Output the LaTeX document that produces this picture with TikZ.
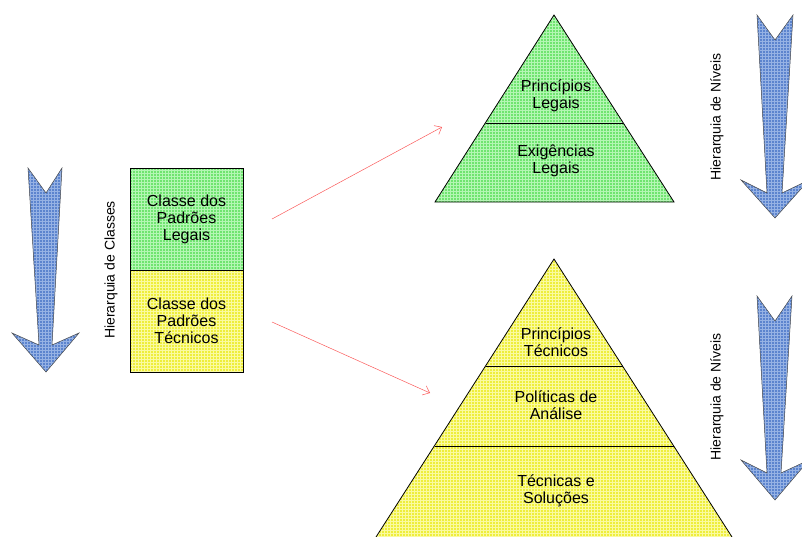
\documentclass[tikz,border=0pt]{standalone}
\usepackage{fontspec}
\setmainfont{Liberation Sans}
\usetikzlibrary{patterns,arrows.meta}

\definecolor{legalgreen}{RGB}{112,228,112}
\definecolor{legalgrid}{RGB}{180,246,180}
\definecolor{techyellow}{RGB}{238,238,60}
\definecolor{techgrid}{RGB}{250,250,160}
\definecolor{flowblue}{RGB}{92,132,206}
\definecolor{flowgrid}{RGB}{150,178,228}
\definecolor{linkred}{RGB}{250,90,90}

\tikzset{
  % solid colour with a fine lighter mesh on top, both laid before the outline
  meshfill/.style 2 args={preaction={fill=#1}, preaction={pattern=grid, pattern color=#2}},
  greenfill/.style={meshfill={legalgreen}{legalgrid}},
  yellowfill/.style={meshfill={techyellow}{techgrid}},
  bluefill/.style={meshfill={flowblue}{flowgrid}},
  outline/.style={draw=black, line width=0.8pt},
  classbox/.style={outline, minimum width=113pt, minimum height=102pt, inner sep=0pt,
    align=center, font=\fontsize{16}{17}\selectfont},
  level/.style={align=center, font=\fontsize{16}{17}\selectfont},
  sidelabel/.style={rotate=90, font=\fontsize{14}{16}\selectfont},
  downarrow/.style={bluefill, draw=black!70, line width=0.5pt, line join=miter},
  link/.style={draw=linkred, line width=0.5pt, -{Straight Barb[length=6pt,width=10pt]}},
}

\begin{document}
\begin{tikzpicture}[x=1pt, y=-1pt]
\useasboundingbox (0,0) rectangle (802,536);

% class hierarchy arrow
\draw[downarrow] (28,168) -- (46,193) -- (62,168) -- (52,345) -- (79,333) -- (46,372)
  -- (12,333) -- (39,345) -- cycle;
\node[sidelabel] (classlbl) at (111,270) {Hierarquia de Classes};

% the two classes
\node[classbox, greenfill] (legal) at (186.5,219) {Classe dos\\Padrões\\Legais};
\node[classbox, yellowfill] (tech) at (186.5,321) {Classe dos\\Padrões\\Técnicos};

% legal pyramid
\draw[outline, greenfill] (554,15) -- (674,202) -- (435,202) -- cycle;
\draw[outline] (485.5,123) -- (623,123);
\node[level] (princl) at (556,96) {Princípios\\Legais};
\node[level] (exig) at (556,161) {Exigências\\Legais};

% technical pyramid
\draw[outline, yellowfill] (554,259) -- (748,562) -- (360,562) -- cycle;
\draw[outline] (485.5,366) -- (622.5,366);
\draw[outline] (434.5,446) -- (673.5,446);
\node[level] (princt) at (556,342) {Princípios\\Técnicos};
\node[level] (polit) at (556,405) {Políticas de\\Análise};
\node[level] (tecsol) at (556,491) {Técnicas e\\Soluções};

% level hierarchy arrows
\draw[downarrow] (757,15) -- (775,40) -- (793,15) -- (782,193) -- (809,180) -- (775,218)
  -- (741,180) -- (767,193) -- cycle;
\node[sidelabel] (levlbl1) at (717,117) {Hierarquia de Níveis};
\draw[downarrow] (757,296) -- (775,321) -- (792,296) -- (781,473) -- (809,460) -- (775,500)
  -- (741,460) -- (767,473) -- cycle;
\node[sidelabel] (levlbl2) at (717,397) {Hierarquia de Níveis};

% links from classes to pyramids
\coordinate (legalout) at (272,219);
\coordinate (legalin) at (442,127);
\coordinate (techout) at (272,322);
\coordinate (techin) at (430,393);
\draw[link] (legalout) -- (legalin);
\draw[link] (techout) -- (techin);
\end{tikzpicture}
\end{document}
